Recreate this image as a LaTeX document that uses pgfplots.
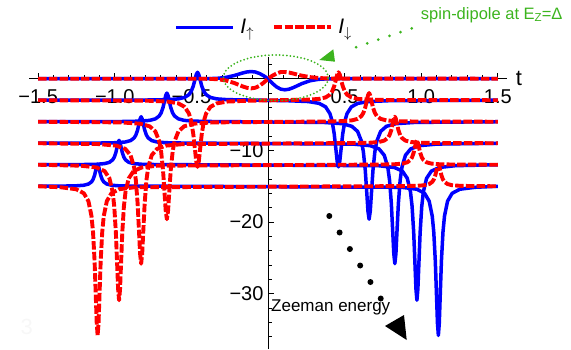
\documentclass[border=0pt]{standalone}
\usepackage{fontspec}
\setmainfont{Liberation Sans}
\usepackage{pgfplots}
\usepackage{pgfplotstable}
\pgfplotsset{compat=1.18}
\definecolor{mgreen}{RGB}{60,180,30}

\pgfplotstableread{
x up dn
-1.5 0 0
-0.44 0 0
-0.385 0.013 -0.02
-0.33 0.055 -0.07
-0.275 0.181 -0.24
-0.22 0.446 -0.6
-0.1925 0.624 -0.84
-0.165 0.803 -1.08
-0.1375 0.943 -1.27
-0.11 1.0 -1.35
-0.0825 0.933 -1.26
-0.055 0.727 -0.98
-0.0275 0.40 -0.54
0 0 0
0.0275 -0.62 0.40
0.055 -1.13 0.72
0.0825 -1.45 0.93
0.11 -1.55 0.93
0.1375 -1.46 0.86
0.165 -1.24 0.72
0.1925 -0.97 0.57
0.22 -0.69 0.43
0.275 -0.28 0.22
0.33 -0.085 0.1
0.385 -0.02 0.04
0.44 0 0.01
1.5 0 0
}\levA

\pgfplotstableread{
x up dn
-1.5 -3 -3
-0.796 -2.973 -3.064
-0.656 -2.922 -3.186
-0.586 -2.816 -3.438
-0.544 -2.61 -3.93
-0.516 -2.22 -4.86
-0.502 -1.8 -5.862
-0.488 -1.05 -7.65
-0.4768 -0.132 -9.838
-0.4684 0.578 -11.532
-0.46 0.9 -12.3
-0.4516 0.578 -11.532
-0.4432 -0.132 -9.838
-0.432 -1.05 -7.65
-0.418 -1.8 -5.862
-0.404 -2.22 -4.86
-0.376 -2.61 -3.93
-0.334 -2.816 -3.438
-0.264 -2.922 -3.186
-0.124 -2.973 -3.064
0.124 -3.064 -2.973
0.264 -3.186 -2.922
0.334 -3.438 -2.816
0.376 -3.93 -2.61
0.404 -4.86 -2.22
0.418 -5.862 -1.8
0.432 -7.65 -1.05
0.4432 -9.838 -0.132
0.4516 -11.532 0.578
0.46 -12.3 0.9
0.4684 -11.532 0.578
0.4768 -9.838 -0.132
0.488 -7.65 -1.05
0.502 -5.862 -1.8
0.516 -4.86 -2.22
0.544 -3.93 -2.61
0.586 -3.438 -2.816
0.656 -3.186 -2.922
0.796 -3.064 -2.973
1.5 -3 -3
}\levB

\pgfplotstableread{
x up dn
-1.5 -6 -6
-0.96 -5.972 -6.094
-0.835 -5.92 -6.272
-0.7725 -5.812 -6.641
-0.735 -5.6 -7.36
-0.71 -5.2 -8.72
-0.6975 -4.769 -10.185
-0.685 -4.0 -12.8
-0.675 -3.059 -16.0
-0.6675 -2.33 -18.477
-0.66 -2.0 -19.6
-0.6525 -2.33 -18.477
-0.645 -3.059 -16.0
-0.635 -4.0 -12.8
-0.6225 -4.769 -10.185
-0.61 -5.2 -8.72
-0.585 -5.6 -7.36
-0.5475 -5.812 -6.641
-0.485 -5.92 -6.272
-0.36 -5.972 -6.094
0.36 -6.094 -5.972
0.485 -6.272 -5.92
0.5475 -6.641 -5.812
0.585 -7.36 -5.6
0.61 -8.72 -5.2
0.6225 -10.185 -4.769
0.635 -12.8 -4.0
0.645 -16.0 -3.059
0.6525 -18.477 -2.33
0.66 -19.6 -2.0
0.6675 -18.477 -2.33
0.675 -16.0 -3.059
0.685 -12.8 -4.0
0.6975 -10.185 -4.769
0.71 -8.72 -5.2
0.735 -7.36 -5.6
0.7725 -6.641 -5.812
0.835 -6.272 -5.92
0.96 -6.094 -5.972
1.5 -6 -6
}\levC

\pgfplotstableread{
x up dn
-1.5 -9 -9
-1.104 -8.974 -9.116
-0.989 -8.926 -9.336
-0.9315 -8.826 -9.791
-0.897 -8.63 -10.68
-0.874 -8.26 -12.36
-0.8625 -7.862 -14.169
-0.851 -7.15 -17.4
-0.8418 -6.279 -21.353
-0.8349 -5.606 -24.412
-0.828 -5.3 -25.8
-0.8211 -5.606 -24.412
-0.8142 -6.279 -21.353
-0.805 -7.15 -17.4
-0.7935 -7.862 -14.169
-0.782 -8.26 -12.36
-0.759 -8.63 -10.68
-0.7245 -8.826 -9.791
-0.667 -8.926 -9.336
-0.552 -8.974 -9.116
0.552 -9.116 -8.974
0.667 -9.336 -8.926
0.7245 -9.791 -8.826
0.759 -10.68 -8.63
0.782 -12.36 -8.26
0.7935 -14.169 -7.862
0.805 -17.4 -7.15
0.8142 -21.353 -6.279
0.8211 -24.412 -5.606
0.828 -25.8 -5.3
0.8349 -24.412 -5.606
0.8418 -21.353 -6.279
0.851 -17.4 -7.15
0.8625 -14.169 -7.862
0.874 -12.36 -8.26
0.897 -10.68 -8.63
0.9315 -9.791 -8.826
0.989 -9.336 -8.926
1.104 -9.116 -8.974
1.5 -9 -9
}\levD

\pgfplotstableread{
x up dn
-1.5 -12 -12
-1.224 -11.977 -12.13
-1.119 -11.932 -12.378
-1.0665 -11.84 -12.89
-1.035 -11.66 -13.89
-1.014 -11.32 -15.78
-1.0035 -10.954 -17.816
-0.993 -10.3 -21.45
-0.9846 -9.5 -25.897
-0.9783 -8.881 -29.339
-0.972 -8.6 -30.9
-0.9657 -8.881 -29.339
-0.9594 -9.5 -25.897
-0.951 -10.3 -21.45
-0.9405 -10.954 -17.816
-0.93 -11.32 -15.78
-0.909 -11.66 -13.89
-0.8775 -11.84 -12.89
-0.825 -11.932 -12.378
-0.72 -11.977 -12.13
0.72 -12.13 -11.977
0.825 -12.378 -11.932
0.8775 -12.89 -11.84
0.909 -13.89 -11.66
0.93 -15.78 -11.32
0.9405 -17.816 -10.954
0.951 -21.45 -10.3
0.9594 -25.897 -9.5
0.9657 -29.339 -8.881
0.972 -30.9 -8.6
0.9783 -29.339 -8.881
0.9846 -25.897 -9.5
0.993 -21.45 -10.3
1.0035 -17.816 -10.954
1.014 -15.78 -11.32
1.035 -13.89 -11.66
1.0665 -12.89 -11.84
1.119 -12.378 -11.932
1.224 -12.13 -11.977
1.5 -12 -12
}\levE

\pgfplotstableread{
x up dn
-1.5 -15 -15
-1.352 -14.979 -15.144
-1.252 -14.939 -15.416
-1.202 -14.856 -15.98
-1.172 -14.695 -17.08
-1.152 -14.39 -19.16
-1.142 -14.062 -21.4
-1.132 -13.475 -25.4
-1.124 -12.757 -30.294
-1.118 -12.202 -34.082
-1.112 -11.95 -35.8
-1.106 -12.202 -34.082
-1.1 -12.757 -30.294
-1.092 -13.475 -25.4
-1.082 -14.062 -21.4
-1.072 -14.39 -19.16
-1.052 -14.695 -17.08
-1.022 -14.856 -15.98
-0.972 -14.939 -15.416
-0.872 -14.979 -15.144
0.872 -15.144 -14.979
0.972 -15.416 -14.939
1.022 -15.98 -14.856
1.052 -17.08 -14.695
1.072 -19.16 -14.39
1.082 -21.4 -14.062
1.092 -25.4 -13.475
1.1 -30.294 -12.757
1.106 -34.082 -12.202
1.112 -35.8 -11.95
1.118 -34.082 -12.202
1.124 -30.294 -12.757
1.132 -25.4 -13.475
1.142 -21.4 -14.062
1.152 -19.16 -14.39
1.172 -17.08 -14.695
1.202 -15.98 -14.856
1.252 -15.416 -14.939
1.352 -15.144 -14.979
1.5 -15 -15
}\levF

\pgfplotsset{
  ups/.style={blue, line width=3.5pt, line join=round},
  dns/.style={red, line width=3.9pt, line join=round, dash pattern=on 8.5pt off 2.2pt},
}

\begin{document}
\begin{tikzpicture}
\useasboundingbox (0,0) rectangle (571pt,349pt);
\begin{axis}[
  at={(29.3pt,0pt)}, anchor=south west,
  scale only axis, width=477.4pt, height=291.8pt,
  xmin=-1.558, xmax=1.558, ymin=-37.7, ymax=3.0,
  axis lines=middle,
  axis line style={-, line width=0.9pt, black},
  clip=false,
  xtick={-1.5,-1,-0.5,0.5,1,1.5},
  xticklabels={−1.5,−1.0,−0.5,0.5,1.0,1.5},
  minor xtick={-1.4,-1.3,-1.2,-1.1,-0.9,-0.8,-0.7,-0.6,-0.4,-0.3,-0.2,-0.1,0.1,0.2,0.3,0.4,0.6,0.7,0.8,0.9,1.1,1.2,1.3,1.4},
  ytick={-30,-20,-10},
  yticklabels={−30,−20,−10},
  minor ytick={-36,-34,-32,-28,-26,-24,-22,-18,-16,-14,-12,-8,-6,-4,-2,2},
  tick align=inside,
  major tick length=6pt, minor tick length=3.5pt,
  tick style={black, line width=0.8pt},
  ticklabel style={font=\fontsize{20}{20}\selectfont},
  xticklabel style={yshift=-7pt},
  yticklabel style={xshift=-1pt},
  xlabel={t},
  xlabel style={at={(axis cs:1.558,0)}, anchor=west, font=\fontsize{22}{22}\selectfont, inner sep=0pt, xshift=9pt},
  legend columns=2,
  legend style={at={(0.492,1.102)}, anchor=center, draw=none, fill=none,
    font=\fontsize{21}{21}\selectfont,
    /tikz/every even column/.append style={column sep=16pt}},
  legend image code/.code={\draw[#1] (0pt,0pt) -- (57pt,0pt);},
]
\addplot[ups] table[x=x,y=up] {\levA};
\addlegendentry{\,{\itshape I}$_{\uparrow}$}
\addplot[ups, forget plot] table[x=x,y=up] {\levB};
\addplot[ups, forget plot] table[x=x,y=up] {\levC};
\addplot[ups, forget plot] table[x=x,y=up] {\levD};
\addplot[ups, forget plot] table[x=x,y=up] {\levE};
\addplot[ups, forget plot] table[x=x,y=up] {\levF};
\addplot[dns] table[x=x,y=dn] {\levA};
\addlegendentry{\,{\itshape I}$_{\downarrow}$}
\addplot[dns, forget plot] table[x=x,y=dn] {\levB};
\addplot[dns, forget plot] table[x=x,y=dn] {\levC};
\addplot[dns, forget plot] table[x=x,y=dn] {\levD};
\addplot[dns, forget plot] table[x=x,y=dn] {\levE};
\addplot[dns, forget plot] table[x=x,y=dn] {\levF};
\end{axis}
% annotations
\draw[mgreen, line width=2pt, line cap=round, dash pattern=on 0pt off 3.6pt] (275.8pt,271.2pt) ellipse [x radius=52.5pt, y radius=22.8pt];
\draw[mgreen, line width=3pt, line cap=round, dash pattern=on 0pt off 11.75pt] (411.7pt,320.7pt) -- (345pt,298pt);
\fill[mgreen] (319.3pt,289pt) -- (333.3pt,299.7pt) -- (335pt,287.3pt) -- cycle;
\node[mgreen, anchor=base, inner sep=0pt, font=\fontsize{16.5}{16.5}\selectfont] at (491.7pt,329.7pt) {spin-dipole at E\raisebox{-0.3ex}{\fontsize{11.5}{11.5}\selectfont Z}=Δ};
\draw[black, line width=6pt, line cap=round, dash pattern=on 0pt off 19.45pt] (329.3pt,133pt) -- (391pt,34pt);
\fill[black] (406.7pt,9pt) -- (385pt,23pt) -- (404pt,34pt) -- cycle;
\node[anchor=base west, inner sep=0pt, font=\fontsize{17}{17}\selectfont] at (271pt,37.7pt) {Zeeman energy};
\node[text=black!3, font=\fontsize{22}{22}\selectfont] at (26.7pt,22.5pt) {3};
\end{tikzpicture}
\end{document}
